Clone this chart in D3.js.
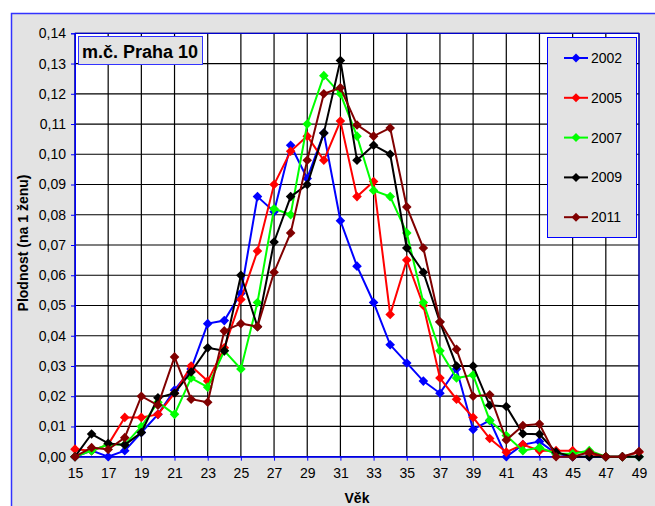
<!DOCTYPE html>
<html><head><meta charset="utf-8">
<script src="https://cdn.jsdelivr.net/npm/d3@7"></script>
<style>html,body{margin:0;padding:0;background:#fff;}svg{display:block;font-family:Arial,"Liberation Sans",sans-serif;}</style>
</head><body><svg id="c" width="655" height="506"></svg>
<script>
const ages = d3.range(15, 50);
const xTickLabels = ["15","17","19","21","23","25","27","29","31","33","35","37","39","41","43","45","47","49"];
const yTickValues = [0,0.01,0.02,0.03,0.04,0.05,0.06,0.07,0.08,0.09,0.10,0.11,0.12,0.13,0.14];
const seriesNames = ["2002","2005","2007","2009","2011"];
const seriesColors = ["#0000ff","#ff0000","#00ff00","#000000","#800000"];
const v2002 = [0.000,0.002,0.000,0.002,0.008,0.014,0.022,0.029,0.044,0.045,0.054,0.086,0.081,0.103,0.092,0.107,0.078,0.063,0.051,0.037,0.031,0.025,0.021,0.029,0.009,0.012,0.000,0.004,0.005,0.001,0.000,0.000,0.000,0.000,0.000];
const v2005 = [0.0025,0.002,0.004,0.013,0.013,0.014,0.021,0.030,0.025,0.036,0.052,0.068,0.090,0.101,0.106,0.098,0.111,0.086,0.091,0.047,0.065,0.050,0.026,0.019,0.013,0.006,0.0015,0.004,0.002,0.002,0.002,0.001,0.000,0.000,0.0015];
const v2007 = [0.000,0.002,0.004,0.004,0.010,0.018,0.014,0.026,0.023,0.035,0.029,0.051,0.082,0.080,0.110,0.126,0.120,0.106,0.088,0.086,0.074,0.051,0.035,0.026,0.027,0.012,0.007,0.002,0.003,0.001,0.001,0.002,0.000,0.000,0.000];
const v2009 = [0.000,0.0075,0.0044,0.0039,0.008,0.0195,0.021,0.028,0.036,0.035,0.060,0.043,0.071,0.086,0.090,0.107,0.131,0.098,0.103,0.100,0.069,0.061,0.0445,0.030,0.030,0.017,0.0166,0.0076,0.0074,0.0015,0.000,0.000,0.000,0.000,0.000];
const v2011 = [0.000,0.003,0.0024,0.0063,0.020,0.017,0.033,0.019,0.018,0.0416,0.044,0.043,0.061,0.074,0.098,0.120,0.122,0.1097,0.106,0.1087,0.0826,0.069,0.0446,0.0355,0.020,0.0205,0.0055,0.0103,0.0108,0.000,0.000,0.0015,0.000,0.000,0.0017];
const seriesValues = [v2002, v2005, v2007, v2009, v2011];

const svg = d3.select("#c");
const L = 75, R = 639, T = 33.3, B = 456.7;
const x = d3.scaleLinear().domain([15, 49]).range([L, R]);
const y = d3.scaleLinear().domain([0, 0.14]).range([B, T]);

// outer chart area
svg.append("rect").attr("x", 11.5).attr("y", 13.5).attr("width", 700).attr("height", 600)
  .attr("fill", "#e3e3e3").attr("stroke", "#3333ff").attr("stroke-width", 1.5);

// plot area
svg.append("rect").attr("x", L).attr("y", T).attr("width", R - L).attr("height", B - T).attr("fill", "#fff");

// grid
const g = svg.append("g");
g.selectAll(".hg").data(yTickValues).join("line")
  .attr("x1", L).attr("x2", R).attr("y1", d => y(d)).attr("y2", d => y(d))
  .attr("stroke", "#000").attr("stroke-width", 1.2);
g.selectAll(".vg").data(xTickLabels.map(Number)).join("line")
  .attr("x1", d => x(d)).attr("x2", d => x(d)).attr("y1", T).attr("y2", B)
  .attr("stroke", "#000").attr("stroke-width", 1.2);

// plot border
svg.append("rect").attr("x", L).attr("y", T).attr("width", R - L).attr("height", B - T)
  .attr("fill", "none").attr("stroke", "#0000ff").attr("stroke-width", 1);

// axes
const yAxis = d3.axisLeft(y).tickValues(yTickValues).tickSize(4)
  .tickFormat(d => d3.format(".2f")(d).replace(".", ","));
const ya = svg.append("g").attr("transform", `translate(${L},0)`).call(yAxis);
ya.select(".domain").attr("stroke", "#0000ff");
ya.selectAll(".tick line").attr("stroke", "#0000ff");
ya.selectAll(".tick text").attr("font-size", 14).attr("fill", "#000").attr("x", -9)
  .attr("font-family", "Arial, 'Liberation Sans', sans-serif");

const xAxis = d3.axisBottom(x).tickValues(xTickLabels.map(Number)).tickSize(4)
  .tickFormat((d, i) => xTickLabels[i]);
const xa = svg.append("g").attr("transform", `translate(0,${B})`).call(xAxis);
xa.select(".domain").attr("stroke", "#0000ff");
xa.selectAll(".tick line").attr("stroke", "#0000ff");
xa.selectAll(".tick text").attr("font-size", 14).attr("fill", "#000").attr("dy", "1.05em")
  .attr("font-family", "Arial, 'Liberation Sans', sans-serif");

// axis titles
svg.append("text").attr("x", 357).attr("y", 503).attr("text-anchor", "middle")
  .attr("font-size", 14).attr("font-weight", "bold").text("Věk");
svg.append("text").attr("transform", "translate(28,243) rotate(-90)").attr("text-anchor", "middle")
  .attr("font-size", 14).attr("font-weight", "bold").text("Plodnost (na 1 ženu)");

// series
const diamond = s => `M0,${-s}L${s},0L0,${s}L${-s},0Z`;
const line = d3.line().x((d, i) => x(ages[i])).y(d => y(d));
seriesValues.forEach((vals, k) => {
  const sg = svg.append("g");
  sg.append("path").datum(vals).attr("d", line).attr("fill", "none")
    .attr("stroke", seriesColors[k]).attr("stroke-width", 2);
  sg.selectAll("path.m").data(vals).join("path").attr("class", "m")
    .attr("transform", (d, i) => `translate(${x(ages[i])},${y(d)})`)
    .attr("d", diamond(4.8)).attr("fill", seriesColors[k]);
});

// title box
svg.append("rect").attr("x", 78.5).attr("y", 36.5).attr("width", 124).attr("height", 28)
  .attr("fill", "#e3e3e3").attr("stroke", "#3333ff").attr("stroke-width", 1);
svg.append("text").attr("x", 82).attr("y", 57.5).attr("font-size", 18).attr("font-weight", "bold")
  .text("m.č. Praha 10");

// legend
const lg = svg.append("g");
lg.append("rect").attr("x", 547.5).attr("y", 37.5).attr("width", 89).attr("height", 200)
  .attr("fill", "#e3e3e3").attr("stroke", "#0000ff").attr("stroke-width", 1);
seriesNames.forEach((n, k) => {
  const ly = 58 + k * 39.8;
  lg.append("line").attr("x1", 564).attr("x2", 588).attr("y1", ly).attr("y2", ly)
    .attr("stroke", seriesColors[k]).attr("stroke-width", 2);
  lg.append("path").attr("transform", `translate(576,${ly})`).attr("d", diamond(4.5)).attr("fill", seriesColors[k]);
  lg.append("text").attr("x", 591).attr("y", ly + 5).attr("font-size", 14).text(n);
});
</script></body></html>
